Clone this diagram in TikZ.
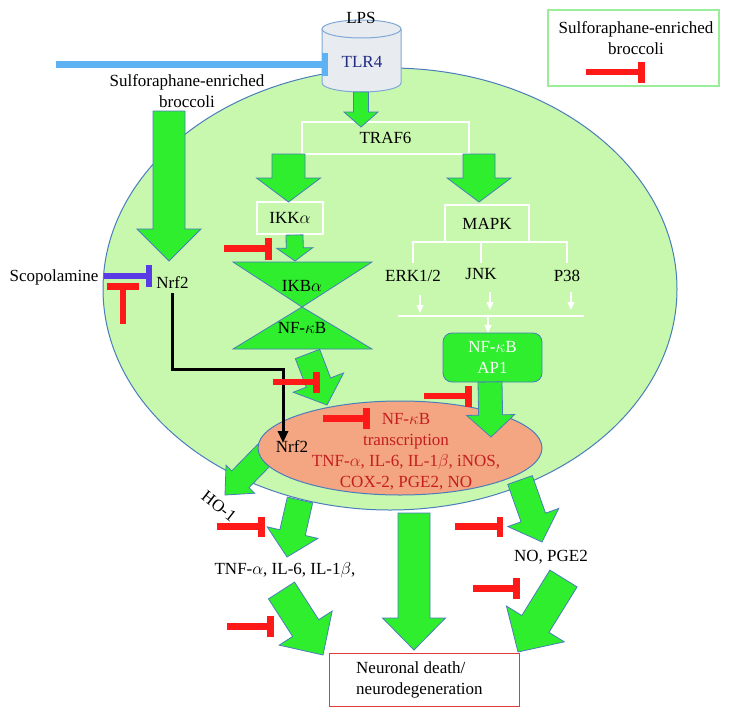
\documentclass[tikz,border=0pt]{standalone}
\usepackage{fontspec}
\setmainfont{Liberation Serif}
\usetikzlibrary{calc,arrows.meta,shapes.geometric}
\definecolor{grn}{HTML}{2EEE2E}
\definecolor{cellfill}{HTML}{C8F8AE}
\definecolor{edgeblue}{HTML}{4A7EBB}
\definecolor{nucfill}{HTML}{F4A582}
\definecolor{redtxt}{HTML}{C41E1E}
\definecolor{inhred}{HTML}{FF1A1A}
\definecolor{tlrblue}{HTML}{5CB2F2}
\definecolor{scopblue}{HTML}{5A3CE6}
\definecolor{navy}{HTML}{1F2A80}
\definecolor{cylfill}{HTML}{E8ECF0}
\definecolor{cyledge}{HTML}{7FA8D6}
\definecolor{legedge}{HTML}{9AEE9A}
\definecolor{boxred}{HTML}{E23A3A}
% block arrow: start, tip, shaft half width, head half width, head length
\newcommand\blockarrow[5]{%
  \coordinate (hb) at ($(#2)!#5!(#1)$);
  \draw[garrow] ($(#1)!#3!90:(#2)$) -- ($(hb)!#3!90:(#2)$) -- ($(hb)!#4!90:(#2)$) -- (#2)
    -- ($(hb)!#4!-90:(#2)$) -- ($(hb)!#3!-90:(#2)$) -- ($(#1)!#3!-90:(#2)$) -- cycle;}
% inhibition line: style, start, bar centre, bar half length
\newcommand\inhib[4]{%
  \draw[#1] (#2) -- (#3);
  \draw[#1] ($(#3)!#4!90:(#2)$) -- ($(#3)!#4!-90:(#2)$);}
\begin{document}
\begin{tikzpicture}[x=1pt,y=-1pt,font=\fontsize{17}{21}\selectfont,
  garrow/.style={fill=grn,draw=edgeblue,line width=0.8pt,line join=miter},
  redinh/.style={draw=inhred,line width=6.5pt},
  blueinh/.style={draw=tlrblue,line width=6.5pt},
  scopinh/.style={draw=scopblue,line width=6.5pt},
  wline/.style={draw=white,line width=1.2pt},
  warrow/.style={wline,-{Triangle[width=7pt,length=8pt]}},
  wbox/.style={draw=white,line width=1.2pt,inner sep=0pt},
  txt/.style={inner sep=0pt},
  cyl/.style={fill=cylfill,draw=cyledge,line width=1pt}]
\useasboundingbox (0,0) rectangle (730,717);
\fill[white] (0,0) rectangle (730,717);

% cell
\node[ellipse,draw=edgeblue,fill=cellfill,line width=1pt,minimum width=574pt,minimum height=442pt,inner sep=0pt] (cell) at (390,289) {};

% TLR4 cylinder
\draw[cyl] (322,29) -- (322,83) arc[start angle=180,end angle=360,x radius=39.5pt,y radius=9pt] -- (401,29);
\draw[cyl] (361.5,29) ellipse[x radius=39.5pt,y radius=9pt];
\node[txt] (lps) at (361,18) {LPS};
\node[txt,text=navy] (tlr4) at (362,62) {TLR4};

% inhibition of TLR4
\coordinate (tlrs) at (56,64.5); \coordinate (tlre) at (325,64.5);
\inhib{blueinh}{tlrs}{tlre}{11pt}

% legend
\node[draw=legedge,line width=1.5pt,minimum width=171pt,minimum height=76pt,inner sep=0pt] (legend) at (633.5,48) {};
\node[txt,align=center] (legtxt) at (636,38.5) {Sulforaphane-enriched\\broccoli};
\coordinate (lgs) at (586,72); \coordinate (lge) at (641.5,72);
\inhib{redinh}{lgs}{lge}{10.5pt}

% broccoli -> Nrf2
\node[txt,align=center] (sfb) at (187,91) {Sulforaphane-enriched\\broccoli};
\coordinate (brs) at (169,111); \coordinate (brt) at (169,261);
\blockarrow{brs}{brt}{16pt}{32pt}{32pt}

% Nrf2 -> HO-1 (under nucleus)
\coordinate (hos) at (266,453); \coordinate (hot) at (225,495);
\blockarrow{hos}{hot}{12pt}{20pt}{22pt}

% nucleus
\node[ellipse,draw=edgeblue,fill=nucfill,line width=1pt,minimum width=284pt,minimum height=94pt,inner sep=0pt] (nucleus) at (400,448) {};

% boxes
\node[wbox,minimum width=167pt,minimum height=32pt] (traf6) at (385.5,138) {TRAF6};
\node[wbox,minimum width=66pt,minimum height=32pt] (ikk) at (290,218) {IKK$\alpha$};
\node[wbox,minimum width=84pt,minimum height=37pt] (mapk) at (487,223.5) {MAPK};

% main green arrows
\coordinate (tls) at (361,92); \coordinate (tlt) at (361,127);
\blockarrow{tls}{tlt}{7.5pt}{17pt}{15pt}
\coordinate (iks) at (288.5,154); \coordinate (ikt) at (288.5,202);
\blockarrow{iks}{ikt}{16.5pt}{32pt}{24pt}
\coordinate (mks) at (479,154); \coordinate (mkt) at (479,202);
\blockarrow{mks}{mkt}{16pt}{32pt}{24pt}
\coordinate (ibs) at (294.5,235); \coordinate (ibt) at (295,261);
\blockarrow{ibs}{ibt}{8.5pt}{18pt}{13pt}

% IKB / NF-kB triangles
\draw[garrow] (233,262) -- (372,262) -- (302,307) -- cycle;
\draw[garrow] (302,307) -- (372,349) -- (233,349) -- cycle;
\node[txt] (ikba) at (302,286) {IKB$\alpha$};
\node[txt] (nfkb) at (302,328) {NF-$\kappa$B};

\coordinate (nfs) at (307.5,354); \coordinate (nft) at (327,405);
\blockarrow{nfs}{nft}{13pt}{27pt}{24pt}

% MAPK branches
\coordinate (m1) at (413,242); \coordinate (m2) at (481,242); \coordinate (m3) at (567,242);
\coordinate (m1b) at (413,263); \coordinate (m2b) at (481,263); \coordinate (m3b) at (567,263);
\draw[wline] (m1b) -- (m1) -- (m3) -- (m3b);
\draw[wline] (m2) -- (m2b);
\node[txt] (erk) at (413,276) {ERK1/2};
\node[txt] (jnk) at (481,274) {JNK};
\node[txt] (p38) at (567,276) {P38};
\coordinate (e1s) at (420,295); \coordinate (e1t) at (420,313);
\coordinate (e2s) at (490,292); \coordinate (e2t) at (490,310);
\coordinate (e3s) at (571,292); \coordinate (e3t) at (571,310);
\draw[warrow] (e1s) -- (e1t);
\draw[warrow] (e2s) -- (e2t);
\draw[warrow] (e3s) -- (e3t);
\coordinate (hl) at (398,316); \coordinate (hr) at (584,316); \coordinate (hm) at (488,316);
\draw[wline] (hl) -- (hr);
\coordinate (hmt) at (488,333);
\draw[warrow] (hm) -- (hmt);

% NF-kB AP1
\node[draw=edgeblue,fill=grn,rounded corners=9pt,minimum width=99pt,minimum height=49pt,text=white,align=center,inner sep=0pt,line width=0.8pt] (ap1) at (492.5,357.5) {NF-$\kappa$B\\AP1};
\coordinate (aps) at (490,382); \coordinate (apt) at (491,437);
\blockarrow{aps}{apt}{12pt}{24pt}{22pt}

% nucleus text
\node[txt] (nrf2b) at (292,447) {Nrf2};
\node[txt,text=redtxt,align=center] (trans) at (406,451.5) {NF-$\kappa$B\\transcription\\TNF-$\alpha$, IL-6, IL-1$\beta$, iNOS,\\COX-2, PGE2, NO};

% Scopolamine / Nrf2
\node[txt] (scop) at (54,277) {Scopolamine};
\node[txt] (nrf2a) at (172.5,283) {Nrf2};
\coordinate (scs) at (104,276); \coordinate (sce) at (149,276);
\inhib{scopinh}{scs}{sce}{11pt}
\coordinate (rts) at (123,324); \coordinate (rte) at (123,286.5);
\inhib{redinh}{rts}{rte}{16pt}
\coordinate (bend) at (283,369); \coordinate (nrf2tip) at (283,443);
\draw[line width=3pt,line join=miter,shorten <=4pt,-{Triangle[width=10pt,length=12pt]}] (nrf2a.south) |- (bend) -- (nrf2tip);

% inhibitors inside the cell
\coordinate (i2s) at (224,248.5); \coordinate (i2e) at (268.5,248.5);
\inhib{redinh}{i2s}{i2e}{11pt}
\coordinate (i4s) at (273,382); \coordinate (i4e) at (316.5,382);
\inhib{redinh}{i4s}{i4e}{10.5pt}
\coordinate (i5s) at (323,418.5); \coordinate (i5e) at (366.5,418.5);
\inhib{redinh}{i5s}{i5e}{10.5pt}
\coordinate (i6s) at (424,396); \coordinate (i6e) at (468.5,396);
\inhib{redinh}{i6s}{i6e}{10.5pt}

% outputs
\node[txt,rotate=-38] (ho1) at (219,506) {HO-1};
\coordinate (tns) at (300,500); \coordinate (tnt) at (287,557);
\blockarrow{tns}{tnt}{13pt}{26pt}{25pt}
\node[txt] (tnf) at (285,570) {TNF-$\alpha$, IL-6, IL-1$\beta$,};
\coordinate (nds) at (281.5,590.5); \coordinate (ndt) at (323,655);
\blockarrow{nds}{ndt}{15.5pt}{31.5pt}{32pt}
\coordinate (cs) at (414,513); \coordinate (ct) at (414,650);
\blockarrow{cs}{ct}{16pt}{31.5pt}{32pt}
\coordinate (ks) at (520,480); \coordinate (kt) at (542,542);
\blockarrow{ks}{kt}{13pt}{27pt}{26pt}
\node[txt] (nopge) at (551,557) {NO, PGE2};
\coordinate (ls) at (563.5,578.5); \coordinate (lt) at (518,652);
\blockarrow{ls}{lt}{16pt}{34pt}{33pt}

\coordinate (i7s) at (217,526.5); \coordinate (i7e) at (261.5,526.5);
\inhib{redinh}{i7s}{i7e}{10pt}
\coordinate (i8s) at (227,626.5); \coordinate (i8e) at (270.5,626.5);
\inhib{redinh}{i8s}{i8e}{10.5pt}
\coordinate (i9s) at (455,526.5); \coordinate (i9e) at (500,526.5);
\inhib{redinh}{i9s}{i9e}{10pt}
\coordinate (i10s) at (473,588.5); \coordinate (i10e) at (516.5,588.5);
\inhib{redinh}{i10s}{i10e}{10.5pt}

% neuronal death box
\node[draw=boxred,line width=1pt,fill=white,minimum width=190pt,minimum height=53pt,inner sep=0pt] (neuro) at (424,679.5) {};
\node[txt,anchor=west,align=left] (neurotxt) at (356,680) {Neuronal death/\\neurodegeneration};
\end{tikzpicture}
\end{document}
